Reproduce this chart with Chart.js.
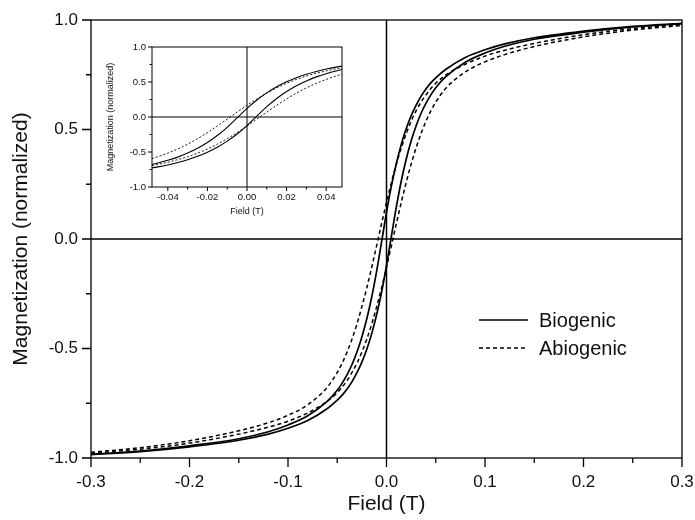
<!DOCTYPE html>
<html>
<head>
<meta charset="utf-8">
<script src="https://cdn.jsdelivr.net/npm/chart.js@4.4.1/dist/chart.umd.min.js"></script>
<style>
  html, body { margin: 0; padding: 0; background: #fff; }
  #wrap { position: relative; width: 695px; height: 520px; }
  #inset { position: absolute; left: 100px; top: 30px; }
</style>
</head>
<body>
<div id="wrap">
  <canvas id="main" width="695" height="520"></canvas>
  <canvas id="inset" width="250" height="190"></canvas>
</div>
<script>
// field grid (T), shared by all branches
const fieldT = [-0.3, -0.25, -0.2, -0.15, -0.12, -0.1, -0.08, -0.06,
  -0.05, -0.045, -0.04, -0.035, -0.03, -0.025, -0.02, -0.015, -0.01, -0.005, 0,
  0.005, 0.01, 0.015, 0.02, 0.025, 0.03, 0.035, 0.04, 0.045, 0.05,
  0.06, 0.08, 0.1, 0.12, 0.15, 0.2, 0.25, 0.3];

// normalized magnetization, descending (upper) and ascending (lower) branches
const bioUpper = [-0.983, -0.968, -0.944, -0.912, -0.880, -0.849, -0.807, -0.740,
  -0.691, -0.658, -0.619, -0.573, -0.516, -0.447, -0.364, -0.265, -0.147, -0.0135, 0.122,
  0.243, 0.345, 0.432, 0.503, 0.562, 0.610, 0.651, 0.685, 0.713, 0.736,
  0.774, 0.829, 0.864, 0.891, 0.919, 0.949, 0.971, 0.985];
const bioLower = [-0.985, -0.971, -0.949, -0.919, -0.891, -0.864, -0.829, -0.774,
  -0.736, -0.713, -0.685, -0.651, -0.610, -0.562, -0.503, -0.432, -0.345, -0.243, -0.122,
  0.0135, 0.147, 0.265, 0.364, 0.447, 0.516, 0.573, 0.619, 0.658, 0.691,
  0.740, 0.807, 0.849, 0.880, 0.912, 0.944, 0.968, 0.983];
const abioUpper = [-0.974, -0.953, -0.921, -0.876, -0.839, -0.805, -0.757, -0.676,
  -0.609, -0.567, -0.516, -0.457, -0.388, -0.309, -0.223, -0.129, -0.03, 0.07, 0.167,
  0.258, 0.342, 0.416, 0.481, 0.537, 0.585, 0.625, 0.658, 0.687, 0.711,
  0.748, 0.798, 0.835, 0.862, 0.893, 0.933, 0.961, 0.979];
const abioLower = [-0.979, -0.960, -0.932, -0.891, -0.859, -0.832, -0.794, -0.741,
  -0.702, -0.676, -0.646, -0.609, -0.567, -0.516, -0.457, -0.388, -0.309, -0.223, -0.129,
  -0.03, 0.07, 0.167, 0.258, 0.342, 0.416, 0.481, 0.537, 0.585, 0.625,
  0.687, 0.763, 0.809, 0.842, 0.879, 0.923, 0.954, 0.975];

const samples = ['Biogenic', 'Abiogenic'];

// tick values
const fieldTicks = [-0.3, -0.2, -0.1, 0, 0.1, 0.2, 0.3];
const fieldMinor = [-0.25, -0.15, -0.05, 0.05, 0.15, 0.25];
const magTicks = [-1, -0.5, 0, 0.5, 1];
const magMinor = [-0.75, -0.25, 0.25, 0.75];
const insetFieldTicks = [-0.04, -0.02, 0, 0.02, 0.04];
const insetFieldMinor = [-0.03, -0.01, 0.01, 0.03];

const FONT = '"Liberation Sans", Arial, sans-serif';
Chart.defaults.font.family = FONT;
Chart.defaults.color = '#111';

function branch(label, ys, width, dash) {
  return {
    label,
    data: fieldT.map((x, i) => ({ x, y: ys[i] })),
    showLine: true,
    borderColor: '#000',
    borderWidth: width,
    borderDash: dash,
    pointRadius: 0,
    cubicInterpolationMode: 'monotone',
    fill: false,
  };
}

// box, zero lines and outer tick marks
const frame = {
  id: 'frame',
  beforeDatasetsDraw(chart, args, o) {
    const { ctx, chartArea: a, scales: { x, y } } = chart;
    ctx.save();
    ctx.strokeStyle = '#000';
    ctx.lineWidth = o.zeroWidth;
    ctx.beginPath();
    const x0 = x.getPixelForValue(0);
    const y0 = y.getPixelForValue(0);
    ctx.moveTo(x0, a.top);
    ctx.lineTo(x0, a.bottom);
    ctx.moveTo(a.left, y0);
    ctx.lineTo(a.right, y0);
    ctx.stroke();
    ctx.restore();
  },
  afterDraw(chart, args, o) {
    const { ctx, chartArea: a, scales: { x, y } } = chart;
    ctx.save();
    ctx.strokeStyle = '#000';
    ctx.lineWidth = o.width;
    ctx.strokeRect(a.left, a.top, a.right - a.left, a.bottom - a.top);
    ctx.beginPath();
    const xt = (vals, len) => vals.forEach(v => {
      const px = x.getPixelForValue(v);
      ctx.moveTo(px, a.bottom);
      ctx.lineTo(px, a.bottom + len);
    });
    const yt = (vals, len) => vals.forEach(v => {
      const py = y.getPixelForValue(v);
      ctx.moveTo(a.left, py);
      ctx.lineTo(a.left - len, py);
    });
    xt(o.xMajor, o.major);
    xt(o.xMinor, o.minor);
    yt(o.yMajor, o.major);
    yt(o.yMinor, o.minor);
    ctx.stroke();
    ctx.restore();
  },
};

// legend drawn inside the plot, one entry per sample
const key = {
  id: 'key',
  afterDraw(chart, args, o) {
    const { ctx } = chart;
    ctx.save();
    ctx.font = o.font;
    ctx.fillStyle = '#111';
    ctx.textBaseline = 'middle';
    samples.forEach((name, i) => {
      const ds = chart.data.datasets.find(d => d.label === name);
      const y = o.top + i * o.gap;
      ctx.strokeStyle = ds.borderColor;
      ctx.lineWidth = o.lineWidth;
      ctx.setLineDash(ds.borderDash);
      ctx.beginPath();
      ctx.moveTo(o.left, y);
      ctx.lineTo(o.left + o.len, y);
      ctx.stroke();
      ctx.setLineDash([]);
      ctx.fillText(name, o.left + o.len + 11, y + 1);
    });
    ctx.restore();
  },
};

function makeChart(canvas, cfg) {
  return new Chart(canvas, {
    type: 'scatter',
    data: { datasets: cfg.datasets },
    plugins: cfg.plugins,
    options: {
      responsive: false,
      animation: false,
      events: [],
      layout: { padding: cfg.padding },
      plugins: Object.assign({ legend: { display: false }, tooltip: { enabled: false } }, cfg.pluginOpts),
      scales: {
        x: {
          type: 'linear',
          min: cfg.xMin,
          max: cfg.xMax,
          afterBuildTicks: s => { s.ticks = cfg.xTicks.map(value => ({ value })); },
          afterFit: s => { s.height = cfg.xHeight; s.paddingLeft = 0; s.paddingRight = 0; },
          grid: { display: false, drawTicks: false },
          border: { display: false },
          ticks: {
            padding: cfg.xPad,
            color: '#111',
            maxRotation: 0,
            autoSkip: false,
            font: { size: cfg.tickSize },
            callback: v => v.toFixed(cfg.xDigits),
          },
          title: {
            display: true,
            text: 'Field (T)',
            color: '#111',
            font: { size: cfg.titleSize },
            padding: { top: 0, bottom: cfg.xTitlePad },
          },
        },
        y: {
          type: 'linear',
          min: -1,
          max: 1,
          afterBuildTicks: s => { s.ticks = magTicks.map(value => ({ value })); },
          afterFit: s => { s.width = cfg.yWidth; s.paddingTop = 0; s.paddingBottom = 0; },
          grid: { display: false, drawTicks: false },
          border: { display: false },
          ticks: {
            padding: cfg.yPad,
            color: '#111',
            autoSkip: false,
            font: { size: cfg.tickSize },
            callback: v => v.toFixed(1),
          },
          title: {
            display: true,
            text: 'Magnetization (normalized)',
            color: '#111',
            font: { size: cfg.yTitleSize },
            padding: { top: cfg.yTitlePad, bottom: 0 },
          },
        },
      },
    },
  });
}

makeChart(document.getElementById('main'), {
  datasets: [
    branch('Biogenic', bioUpper, 1.7, []),
    branch('Biogenic lower', bioLower, 1.7, []),
    branch('Abiogenic', abioUpper, 1.5, [4, 3]),
    branch('Abiogenic lower', abioLower, 1.5, [4, 3]),
  ],
  plugins: [frame, key],
  pluginOpts: {
    frame: { width: 1.3, zeroWidth: 1.5, major: 9, minor: 5,
      xMajor: fieldTicks, xMinor: fieldMinor, yMajor: magTicks, yMinor: magMinor },
    key: { left: 479, top: 320, gap: 28, len: 49, lineWidth: 1.6, font: '20px ' + FONT },
  },
  padding: { top: 20, right: 13, left: 0, bottom: 0 },
  xMin: -0.3, xMax: 0.3, xTicks: fieldTicks, xDigits: 1,
  xHeight: 62, yWidth: 91, xPad: 14, yPad: 13,
  tickSize: 17, titleSize: 21, yTitleSize: 21, xTitlePad: 3, yTitlePad: 9,
});

makeChart(document.getElementById('inset'), {
  datasets: [
    branch('Biogenic', bioUpper, 1.1, []),
    branch('Biogenic lower', bioLower, 1.1, []),
    branch('Abiogenic', abioUpper, 0.9, [2, 2]),
    branch('Abiogenic lower', abioLower, 0.9, [2, 2]),
  ],
  plugins: [frame],
  pluginOpts: {
    frame: { width: 1, zeroWidth: 1, major: 4, minor: 2.5,
      xMajor: insetFieldTicks, xMinor: insetFieldMinor, yMajor: magTicks, yMinor: magMinor },
  },
  padding: { top: 17, right: 8, left: 0, bottom: 0 },
  xMin: -0.048, xMax: 0.048, xTicks: insetFieldTicks, xDigits: 2,
  xHeight: 33, yWidth: 52, xPad: 5, yPad: 6,
  tickSize: 9.5, titleSize: 9, yTitleSize: 9, xTitlePad: 3, yTitlePad: 5,
});
</script>
</body>
</html>
